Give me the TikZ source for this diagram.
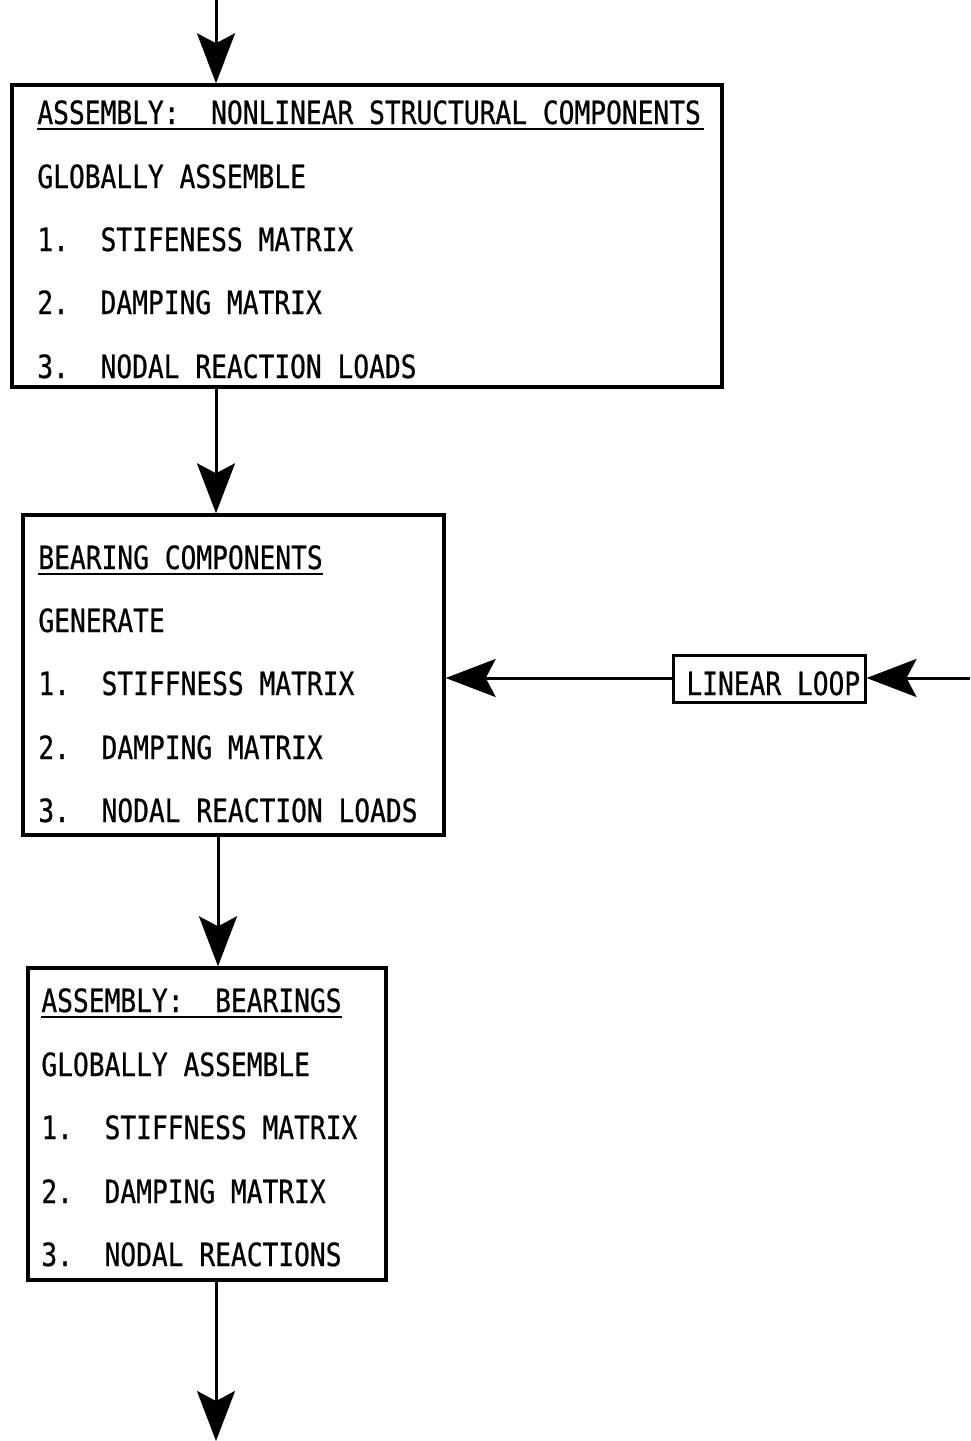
\documentclass[tikz,border=0pt]{standalone}
\usepackage{fontspec}
\newfontfamily\typefont[FakeStretch=0.82,FakeBold=0.6]{DejaVu Sans Mono}
\usetikzlibrary{arrows.meta,calc}
\begin{document}
\begin{tikzpicture}[x=0.5pt,y=-0.5pt,
  frame/.style={draw,line width=1.7pt,rectangle,inner sep=0pt},
  txt/.style={anchor=base west,inner sep=0pt,font=\typefont\fontsize{16pt}{19pt}\selectfont},
  flow/.style={line width=1.5pt,-{Stealth[length=25pt,width=19pt,inset=5pt]}},
  rule/.style={line width=1.2pt}]
\useasboundingbox (0,0) rectangle (970,1441);

% boxes
\node[frame,minimum width=355pt,minimum height=151pt] (b1) at (367,236) {};
\node[frame,minimum width=210.5pt,minimum height=160pt] (b2) at (233.5,675) {};
\node[frame,minimum width=179pt,minimum height=156pt] (b3) at (207,1124) {};
\node[frame,line width=1.5pt,minimum width=96pt,minimum height=23.5pt] (ll) at (769,678.5) {};

% box 1 text
\node[txt] (t1) at (37,124) {ASSEMBLY:~~NONLINEAR STRUCTURAL COMPONENTS};
\draw[rule] ($(t1.base west)+(0,5)$) -- ($(t1.base east)+(3,5)$);
\node[txt] (t1a) at (37,188) {GLOBALLY ASSEMBLE};
\node[txt] (t1b) at (37,251) {1.~~STIFENESS MATRIX};
\node[txt] (t1c) at (37,314) {2.~~DAMPING MATRIX};
\node[txt] (t1d) at (37,378) {3.~~NODAL REACTION LOADS};

% box 2 text
\node[txt] (t2) at (38,569) {BEARING COMPONENTS};
\draw[rule] ($(t2.base west)+(0,5)$) -- ($(t2.base east)+(0,5)$);
\node[txt] (t2a) at (38,632) {GENERATE};
\node[txt] (t2b) at (38,695) {1.~~STIFFNESS MATRIX};
\node[txt] (t2c) at (38,759) {2.~~DAMPING MATRIX};
\node[txt] (t2d) at (38,822) {3.~~NODAL REACTION LOADS};

% box 3 text
\node[txt] (t3) at (41,1012) {ASSEMBLY:~~BEARINGS};
\draw[rule] ($(t3.base west)+(0,5)$) -- ($(t3.base east)+(0,5)$);
\node[txt] (t3a) at (41,1076) {GLOBALLY ASSEMBLE};
\node[txt] (t3b) at (41,1139) {1.~~STIFFNESS MATRIX};
\node[txt] (t3c) at (41,1203) {2.~~DAMPING MATRIX};
\node[txt] (t3d) at (41,1266) {3.~~NODAL REACTIONS};

% linear loop label
\node[txt] (tl) at (686,695) {LINEAR LOOP};

% connector guides
\coordinate (in) at (216,0);
\coordinate (c2) at (216,0);
\coordinate (c3) at (218,0);
\coordinate (out) at (216,1441);
\coordinate (rin) at (970,678);

% connectors
\draw[flow] (in) -- (in |- b1.north);
\draw[flow] (c2 |- b1.south) -- (c2 |- b2.north);
\draw[flow] (c3 |- b2.south) -- (c3 |- b3.north);
\draw[flow] (out |- b3.south) -- (out);
\draw[flow] (rin) -- (ll.east |- rin);
\draw[flow] (ll.west |- rin) -- (b2.east |- rin);
\end{tikzpicture}
\end{document}
